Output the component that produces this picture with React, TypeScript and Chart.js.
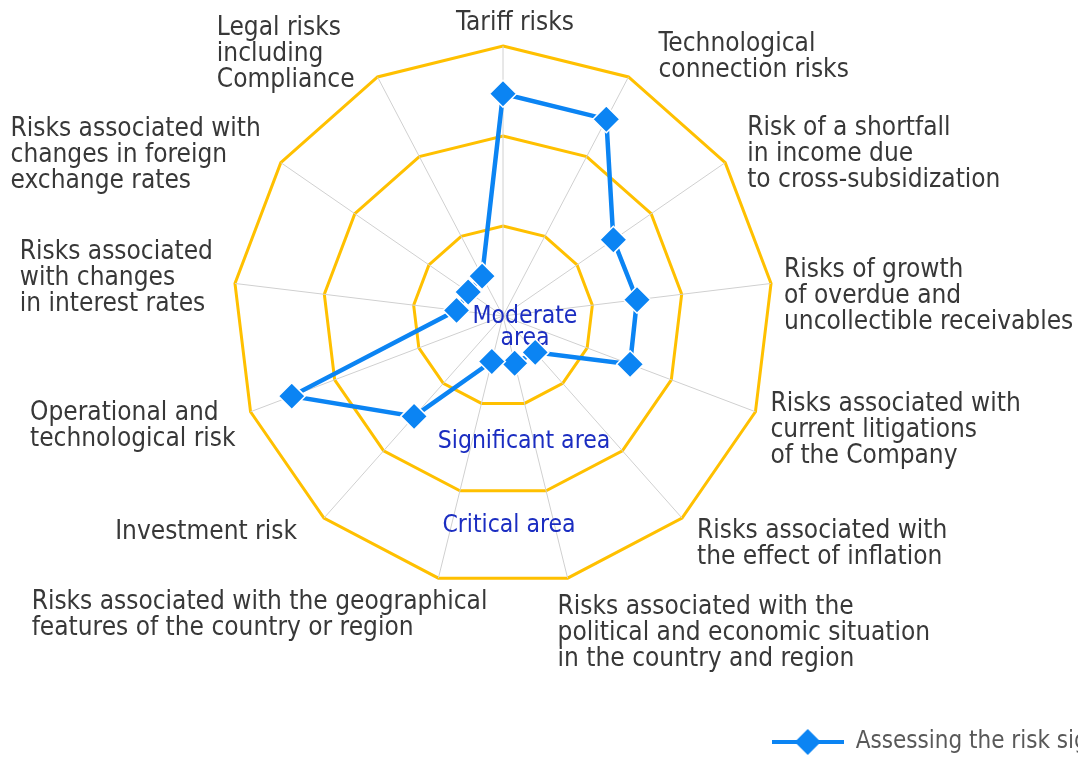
import { useEffect, useRef } from 'react';
import { Chart, registerables } from 'chart.js';

Chart.register(...registerables);

// ---------- data ----------
const CATEGORIES: string[][] = [
  ['Tariff risks'],
  ['Technological', 'connection risks'],
  ['Risk of a shortfall', 'in income due', 'to cross-subsidization'],
  ['Risks of growth', 'of overdue and', 'uncollectible receivables'],
  ['Risks associated with', 'current litigations', 'of the Company'],
  ['Risks associated with', 'the effect of inflation'],
  ['Risks associated with the', 'political and economic situation', 'in the country and region'],
  ['Risks associated with the geographical', 'features of the country or region'],
  ['Investment risk'],
  ['Operational and', 'technological risk'],
  ['Risks associated', 'with changes', 'in interest rates'],
  ['Risks associated with', 'changes in foreign', 'exchange rates'],
  ['Legal risks', 'including', 'Compliance'],
];
const RISK_VALUES: number[] = [2.47, 2.47, 1.49, 1.5, 1.51, 0.54, 0.54, 0.52, 1.49, 2.51, 0.52, 0.47, 0.5];
const SERIES_LABEL = 'Assessing the risk significance';
const ZONE_TEXTS: string[][] = [['Moderate', 'area'], ['Significant area'], ['Critical area']];
const SCALE_MIN = 0;
const SCALE_MAX = 3;
const RING_STEP = 1;

// ---------- layout / style ----------
const FONT_FAMILY = '"DejaVu Sans Condensed", "DejaVu Sans", sans-serif';
const LABEL_FONT_SIZE = 26;
const LABEL_LINE_HEIGHT = 26;
const LABEL_COLOR = '#383838';
const ZONE_FONT_SIZE = 24.5;
const ZONE_LINE_HEIGHT = 22;
const ZONE_COLOR = '#1b2dc1';
const LEGEND_FONT_SIZE = 24;
const LEGEND_BOX_W = 72;
const LEGEND_PAD = 144;
const LEGEND_TARGET_X = 772;
const CENTER_X = 503;
const CANVAS_H = 764;
const SERIES_COLOR = '#0b84f3';
const RING_COLOR = '#ffc000';
const SPOKE_COLOR = '#d0d0d0';

// label placement relative to each outer vertex of the polygon
const LABEL_LAYOUT = [
  { side: 'center', dx: 12, dy: -16 },
  { side: 'right', dx: 30, dy: -26 },
  { side: 'right', dx: 22, dy: -28 },
  { side: 'right', dx: 13, dy: -6 },
  { side: 'right', dx: 15, dy: -1 },
  { side: 'right', dx: 15, dy: 20 },
  { side: 'right', dx: -10, dy: 36 },
  { side: 'left', dx: 49, dy: 31 },
  { side: 'left', dx: -27, dy: 21 },
  { side: 'left', dx: -15, dy: 8 },
  { side: 'left', dx: -22, dy: -24 },
  { side: 'left', dx: -20, dy: -27 },
  { side: 'left', dx: -23, dy: -42 },
];
// zone captions: horizontal offset (px) and radial position (scale value, downward)
const ZONE_LAYOUT = [
  { dx: 22, at: 0.074 },
  { dx: 21, at: 1.467 },
  { dx: 6, at: 2.4 },
];

function makeLegendSample(): HTMLCanvasElement {
  const c = document.createElement('canvas');
  c.width = LEGEND_BOX_W;
  c.height = 28;
  const g = c.getContext('2d')!;
  g.strokeStyle = SERIES_COLOR;
  g.lineWidth = 4;
  g.beginPath();
  g.moveTo(0, 14);
  g.lineTo(LEGEND_BOX_W, 14);
  g.stroke();
  g.fillStyle = SERIES_COLOR;
  g.beginPath();
  const cx = LEGEND_BOX_W / 2;
  g.moveTo(cx, 1);
  g.lineTo(cx + 13, 14);
  g.lineTo(cx, 27);
  g.lineTo(cx - 13, 14);
  g.closePath();
  g.fill();
  return c;
}

const labelPlugin = {
  id: 'riskLabels',
  afterDraw(chart: any) {
    const scale = chart.scales.r;
    const ctx = chart.ctx as CanvasRenderingContext2D;
    ctx.save();
    ctx.font = `${LABEL_FONT_SIZE}px ${FONT_FAMILY}`;
    ctx.fillStyle = LABEL_COLOR;
    ctx.textAlign = 'left';
    ctx.textBaseline = 'alphabetic';
    CATEGORIES.forEach((lines, i) => {
      const v = scale.getPointPosition(i, scale.drawingArea);
      const lay = LABEL_LAYOUT[i];
      const widths = lines.map((l) => ctx.measureText(l).width);
      const maxW = Math.max(...widths);
      lines.forEach((line, j) => {
        let x: number;
        if (lay.side === 'center') x = v.x + lay.dx - widths[j] / 2;
        else if (lay.side === 'right') x = v.x + lay.dx;
        else x = v.x + lay.dx - maxW;
        ctx.fillText(line, x, v.y + lay.dy + j * LABEL_LINE_HEIGHT);
      });
    });
    ctx.restore();
  },
};

const zonePlugin = {
  id: 'zoneCaptions',
  beforeDatasetsDraw(chart: any) {
    const scale = chart.scales.r;
    const ctx = chart.ctx as CanvasRenderingContext2D;
    ctx.save();
    ctx.font = `${ZONE_FONT_SIZE}px ${FONT_FAMILY}`;
    ctx.fillStyle = ZONE_COLOR;
    ctx.textAlign = 'center';
    ctx.textBaseline = 'alphabetic';
    ZONE_TEXTS.forEach((lines, i) => {
      const lay = ZONE_LAYOUT[i];
      const x = scale.xCenter + lay.dx;
      const y = scale.yCenter + scale.getDistanceFromCenterForValue(lay.at);
      lines.forEach((line, j) => ctx.fillText(line, x, y + j * ZONE_LINE_HEIGHT));
    });
    ctx.restore();
  },
};

export default function App() {
  const ref = useRef<HTMLCanvasElement>(null);

  useEffect(() => {
    document.body.style.margin = '0';
    const canvas = ref.current!;
    const m = document.createElement('canvas').getContext('2d')!;
    m.font = `${LEGEND_FONT_SIZE}px ${FONT_FAMILY}`;
    const itemW = LEGEND_BOX_W + LEGEND_FONT_SIZE / 2 + m.measureText(SERIES_LABEL).width;
    const half = Math.round(LEGEND_TARGET_X - CENTER_X + itemW + LEGEND_PAD);
    const W = half * 2;
    const shift = half - CENTER_X;
    canvas.width = W;
    canvas.height = CANVAS_H;
    canvas.style.width = W + 'px';
    canvas.style.height = CANVAS_H + 'px';
    canvas.style.marginLeft = -shift + 'px';

    const chart = new Chart(canvas, {
      type: 'radar',
      data: {
        labels: CATEGORIES,
        datasets: [
          {
            label: SERIES_LABEL,
            data: RISK_VALUES,
            borderColor: SERIES_COLOR,
            backgroundColor: SERIES_COLOR,
            borderWidth: 4.5,
            fill: false,
            pointStyle: 'rectRot',
            pointRadius: 13.5,
            pointHoverRadius: 13.5,
            pointBackgroundColor: SERIES_COLOR,
            pointBorderColor: '#ffffff',
            pointBorderWidth: 1.5,
          },
        ],
      },
      options: {
        responsive: false,
        animation: false,
        devicePixelRatio: 1,
        layout: { padding: { top: 46, bottom: 0, left: 0, right: 0 } },
        scales: {
          r: {
            min: SCALE_MIN,
            max: SCALE_MAX,
            ticks: { display: false, stepSize: RING_STEP },
            grid: { color: RING_COLOR, lineWidth: 3, circular: false },
            angleLines: { color: SPOKE_COLOR, lineWidth: 1 },
            pointLabels: { display: false },
          },
        },
        plugins: {
          tooltip: { enabled: false },
          legend: {
            position: 'bottom',
            align: 'end',
            labels: {
              usePointStyle: true,
              pointStyle: makeLegendSample() as any,
              pointStyleWidth: LEGEND_BOX_W,
              padding: LEGEND_PAD,
              color: '#595959',
              font: { size: LEGEND_FONT_SIZE, family: FONT_FAMILY },
            },
          },
        },
      },
      plugins: [zonePlugin, labelPlugin],
    });
    return () => chart.destroy();
  }, []);

  return (
    <div style={{ width: 1078, height: 760, overflow: 'hidden', position: 'relative', background: '#fff' }}>
      <canvas ref={ref} style={{ display: 'block' }} />
    </div>
  );
}
